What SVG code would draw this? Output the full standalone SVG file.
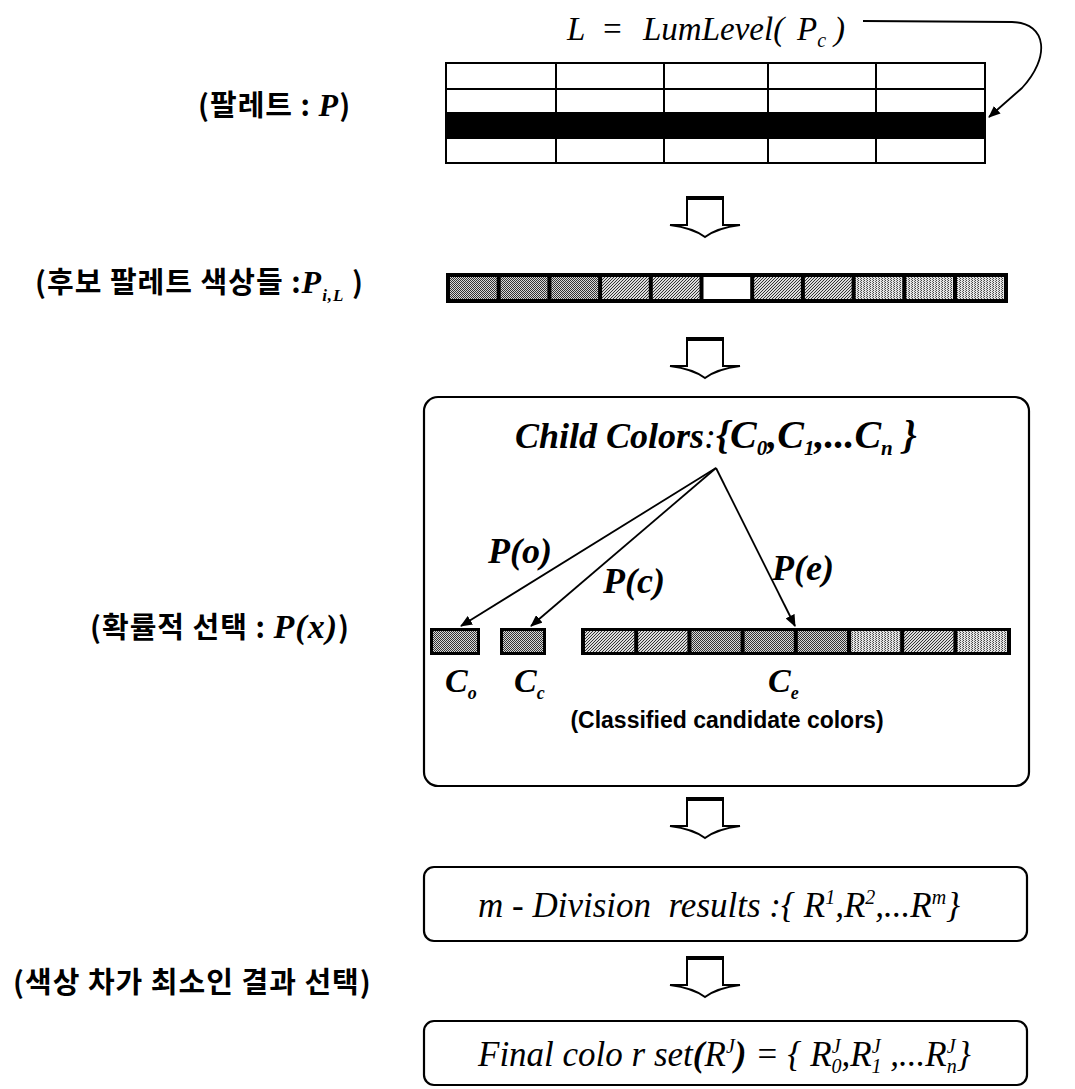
<svg xmlns="http://www.w3.org/2000/svg" width="1075" height="1089" viewBox="0 0 1075 1089">
  <defs>
    <style>
      .ser{font-family:"Liberation Serif","Times New Roman",serif;font-style:italic;fill:#000}
      .serb{font-family:"Liberation Serif","Times New Roman",serif;font-style:italic;font-weight:bold;fill:#000}
      .ko{font-family:"Noto Sans CJK KR","Noto Sans",sans-serif;font-weight:bold;font-size:29px;letter-spacing:1px;fill:#000}
      .sans{font-family:"Liberation Sans",Arial,sans-serif;font-weight:bold;fill:#000}
      .box{fill:#fff;stroke:#000;stroke-width:2.2}
      .grid{fill:none;stroke:#000;stroke-width:2}
      .line{fill:none;stroke:#000;stroke-width:1.8}
      .blk{fill:#fff;stroke:#000;stroke-width:2}
      .blktop{fill:none;stroke:#000;stroke-width:4}
      .frame{fill:#000}
    </style>
    <!-- dithered greys used for the colour swatches -->
    <pattern id="dDark" width="2" height="2" patternUnits="userSpaceOnUse">
      <rect width="2" height="2" fill="#d8d8d8"/>
      <rect width="1" height="1" fill="#333"/>
      <rect x="1" y="1" width="1" height="1" fill="#333"/>
    </pattern>
    <pattern id="dHatch" width="3" height="3" patternUnits="userSpaceOnUse">
      <rect width="3" height="3" fill="#dcdcdc"/>
      <rect x="0" y="2" width="1" height="1" fill="#333"/>
      <rect x="1" y="1" width="1" height="1" fill="#333"/>
      <rect x="2" y="0" width="1" height="1" fill="#333"/>
    </pattern>
    <pattern id="dLight" width="3" height="2" patternUnits="userSpaceOnUse">
      <rect width="3" height="2" fill="#e4e4e4"/>
      <rect width="1" height="1" fill="#444"/>
      <rect x="2" y="1" width="1" height="1" fill="#666"/>
    </pattern>
    <marker id="head" viewBox="0 0 12 10" refX="11" refY="5" markerWidth="12" markerHeight="10" markerUnits="userSpaceOnUse" orient="auto">
      <path d="M0,0 L12,5 L0,10 z" fill="#000"/>
    </marker>
    <!-- outlined down arrow between stages; origin = top centre -->
    <g id="blockArrow">
      <path class="blk" d="M-18,0 H18 V28 H35 Q12,31 0,40 Q-12,31 -35,28 H-18 Z"/>
      <path class="blktop" d="M-18,1 H18"/>
    </g>
  </defs>

  <rect width="1075" height="1089" fill="#fff"/>

  <!-- palette table -->
  <g id="palette">
    <rect x="446" y="63" width="539" height="100" fill="#fff"/>
    <rect x="446" y="113" width="539" height="25" fill="#000"/>
    <rect class="grid" x="446" y="63" width="539" height="100"/>
    <path class="grid" d="M446,89 H985 M446,113 H985 M446,138 H985 M556,63 V163 M664,63 V163 M768,63 V163 M876,63 V163"/>
  </g>

  <g id="formula">
    <text class="ser" font-size="33" y="40"><tspan x="567">L</tspan><tspan x="601">=</tspan><tspan x="643">LumLevel(</tspan><tspan x="797">P</tspan><tspan font-size="20" dy="7">c</tspan><tspan x="834" dy="-7">)</tspan></text>
  </g>

  <!-- stage labels on the left -->
  <g id="label-palette">
    <text class="ko" x="198" y="116">(팔레트 : <tspan class="serb" font-size="32">P</tspan>)</text>
  </g>
  <g id="label-candidates">
    <text class="ko" x="35" y="293">(후보 팔레트 색상들 :<tspan class="serb" font-size="32">P</tspan><tspan class="serb" font-size="17" dy="8">i,L</tspan><tspan dy="-8"> )</tspan></text>
  </g>
  <g id="label-probability">
    <text class="ko" x="90" y="638">(확률적 선택 : <tspan class="serb" font-size="34">P(x)</tspan>)</text>
  </g>
  <g id="label-select">
    <text class="ko" x="13" y="993">(색상 차가 최소인 결과 선택)</text>
  </g>

  <!-- candidate palette colours -->
  <g id="candidates">
    <rect class="frame" x="446" y="273" width="562" height="30"/>
    <rect x="450" y="277" width="46.7" height="22" fill="url(#dDark)"/>
    <rect x="500.7" y="277" width="46.7" height="22" fill="url(#dDark)"/>
    <rect x="551.4" y="277" width="46.7" height="22" fill="url(#dDark)"/>
    <rect x="602.1" y="277" width="46.7" height="22" fill="url(#dHatch)"/>
    <rect x="652.8" y="277" width="46.7" height="22" fill="url(#dHatch)"/>
    <rect x="703.5" y="277" width="46.7" height="22" fill="#fff"/>
    <rect x="754.2" y="277" width="46.7" height="22" fill="url(#dHatch)"/>
    <rect x="804.9" y="277" width="46.7" height="22" fill="url(#dHatch)"/>
    <rect x="855.6" y="277" width="46.7" height="22" fill="url(#dLight)"/>
    <rect x="906.3" y="277" width="46.7" height="22" fill="url(#dLight)"/>
    <rect x="957" y="277" width="47" height="22" fill="url(#dLight)"/>
  </g>

  <!-- probabilistic selection of child colours -->
  <g id="child-colors">
    <rect class="box" x="424" y="397" width="605" height="389" rx="14"/>
    <text class="serb" font-size="36" x="515" y="448">Child Colors<tspan font-weight="normal">:</tspan><tspan font-size="40">{C</tspan><tspan font-size="21" dy="7">0</tspan><tspan font-size="40" dy="-7">,C</tspan><tspan font-size="21" dy="7">1</tspan><tspan font-size="40" dy="-7">,...C</tspan><tspan font-size="21" dy="7">n</tspan><tspan font-size="40" dy="-7"> }</tspan></text>
    <text class="serb" font-size="36" x="488" y="563">P(o)</text>
    <text class="serb" font-size="36" x="603" y="593">P(c)</text>
    <text class="serb" font-size="36" x="772" y="580">P(e)</text>

    <rect class="frame" x="430" y="628" width="50" height="27"/>
    <rect x="433" y="631" width="44" height="21" fill="url(#dDark)"/>
    <rect class="frame" x="500" y="628" width="46" height="27"/>
    <rect x="503" y="631" width="40" height="21" fill="url(#dDark)"/>

    <rect class="frame" x="581" y="628" width="430" height="27"/>
    <rect x="585" y="631" width="49.2" height="21" fill="url(#dHatch)"/>
    <rect x="638.2" y="631" width="49.2" height="21" fill="url(#dHatch)"/>
    <rect x="691.4" y="631" width="49.2" height="21" fill="url(#dDark)"/>
    <rect x="744.6" y="631" width="49.2" height="21" fill="url(#dDark)"/>
    <rect x="797.8" y="631" width="49.2" height="21" fill="url(#dDark)"/>
    <rect x="851" y="631" width="49.2" height="21" fill="url(#dLight)"/>
    <rect x="904.2" y="631" width="49.2" height="21" fill="url(#dHatch)"/>
    <rect x="957.4" y="631" width="49.6" height="21" fill="url(#dLight)"/>

    <text class="serb" font-size="34" x="445" y="692">C<tspan font-size="18" dy="7">o</tspan></text>
    <text class="serb" font-size="34" x="514" y="692">C<tspan font-size="18" dy="7">c</tspan></text>
    <text class="serb" font-size="34" x="768" y="692">C<tspan font-size="18" dy="7">e</tspan></text>
    <text class="sans" font-size="23" x="727" y="728" text-anchor="middle">(Classified candidate colors)</text>
  </g>

  <g id="division-results">
    <rect class="box" x="424" y="867" width="603" height="74" rx="10"/>
    <text class="ser" font-size="35" x="478" y="917" style="white-space:pre">m - Division  results :{ R<tspan font-size="20" dy="-13">1</tspan><tspan dy="13">,R</tspan><tspan font-size="20" dy="-13">2</tspan><tspan dy="13">,...R</tspan><tspan font-size="20" dy="-13">m</tspan><tspan dy="13">}</tspan></text>
  </g>

  <g id="final-set">
    <rect class="box" x="424" y="1021" width="603" height="64" rx="10"/>
    <text class="ser" font-size="35" x="478" y="1066" style="white-space:pre">Final colo r set<tspan font-weight="bold">(</tspan>R<tspan font-size="20" dy="-13">J</tspan><tspan font-weight="bold" dy="13">)</tspan> = { R<tspan font-size="20" dy="-13">J</tspan><tspan font-size="20" dx="-9" dy="20">0</tspan><tspan dy="-7">,R</tspan><tspan font-size="20" dy="-13">J</tspan><tspan font-size="20" dx="-9" dy="20">1</tspan><tspan dy="-7"> ,...R</tspan><tspan font-size="20" dy="-13">J</tspan><tspan font-size="20" dx="-9" dy="20">n</tspan><tspan dy="-7">}</tspan></text>
  </g>

  <!-- connectors -->
  <g id="connectors">
    <path class="line" d="M863,21 L1012,22 C1048,23 1050,58 1022,88 L989,117" marker-end="url(#head)"/>
    <use href="#blockArrow" x="705" y="197"/>
    <use href="#blockArrow" x="705" y="338"/>
    <use href="#blockArrow" x="705" y="798"/>
    <use href="#blockArrow" x="705" y="957"/>
    <path class="line" d="M716,468 L461,626" marker-end="url(#head)"/>
    <path class="line" d="M716,468 L531,626" marker-end="url(#head)"/>
    <path class="line" d="M716,468 L795,626" marker-end="url(#head)"/>
  </g>
</svg>
